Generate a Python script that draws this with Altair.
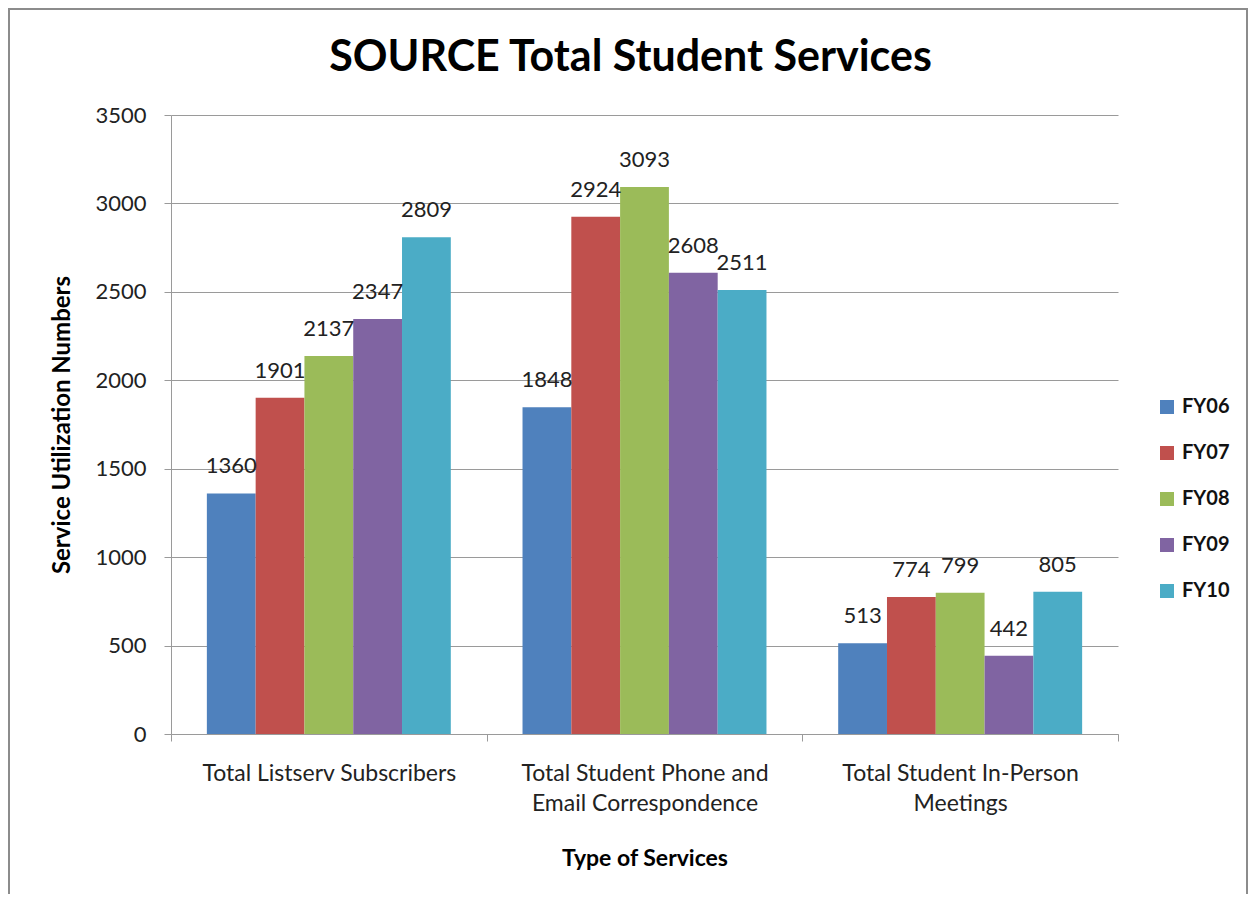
import altair as alt
import pandas as pd

categories = ["Total Listserv Subscribers",
              "Total Student Phone and|Email Correspondence",
              "Total Student In-Person|Meetings"]
series = ["FY06", "FY07", "FY08", "FY09", "FY10"]
colors = ["#4F81BD", "#C0504D", "#9BBB59", "#8064A2", "#4BACC6"]
values = {
    "FY06": [1360, 1848, 513],
    "FY07": [1901, 2924, 774],
    "FY08": [2137, 3093, 799],
    "FY09": [2347, 2608, 442],
    "FY10": [2809, 2511, 805],
}

rows = []
for s in series:
    for c, v in zip(categories, values[s]):
        rows.append({"cat": c, "fy": s, "val": v})
df = pd.DataFrame(rows)

FONT = "Lato"

x_enc = alt.X("cat:N", sort=categories,
              scale=alt.Scale(paddingInner=0, paddingOuter=0),
              axis=alt.Axis(title="Type of Services", labelAngle=0,
                            labelExpr="split(datum.label, '|')",
                            labelLimit=0, labelFontSize=23,
                            tickBand="extent", grid=False,
                            labelPadding=21, titlePadding=32))
xo_enc = alt.XOffset("fy:N", sort=series,
                     scale=alt.Scale(paddingInner=0, paddingOuter=0.735))
y_enc = alt.Y("val:Q", scale=alt.Scale(domain=[0, 3500]),
              axis=alt.Axis(title="Service Utilization Numbers", format="d",
                            values=[0, 500, 1000, 1500, 2000, 2500, 3000, 3500],
                            labelPadding=18, titlePadding=20, titleFontSize=24))

bars = alt.Chart(df).mark_bar().encode(
    x=x_enc, xOffset=xo_enc, y=y_enc,
    color=alt.Color("fy:N", sort=series,
                    scale=alt.Scale(domain=series, range=colors),
                    legend=alt.Legend(title=None, orient="none",
                                      legendX=986, legendY=282,
                                      symbolType="square", symbolSize=196,
                                      symbolStrokeWidth=0,
                                      labelFontSize=20, labelFontWeight="bold",
                                      labelFont=FONT, labelColor="#111",
                                      rowPadding=26, labelOffset=5)),
)

labels = alt.Chart(df).mark_text(baseline="alphabetic", dy=-20, fontSize=22,
                                 font=FONT, color="#222").encode(
    x=alt.X("cat:N", sort=categories), xOffset=alt.XOffset("fy:N", sort=series),
    y="val:Q", text="val:Q",
)

border = alt.Chart(pd.DataFrame({"a": [0]})).mark_rect(
    fill=None, stroke="#8c8c8c", strokeWidth=2).encode(
    x=alt.value(-162), x2=alt.value(1076), y=alt.value(-106), y2=alt.value(900))

chart = alt.layer(bars, labels, border).properties(
    width=947, height=619,
    autosize=alt.AutoSizeParams(type="none"),
    padding={"left": 163, "top": 107, "right": 131, "bottom": 160},
    title=alt.TitleParams("SOURCE Total Student Services", fontSize=43,
                          font=FONT, fontWeight="bold", color="#000",
                          anchor="middle", offset=-72, dx=-14),
).configure(background="white").configure_view(stroke=None).configure_axis(
    domainColor="#9a9a9a", tickColor="#9a9a9a", gridColor="#9a9a9a",
    tickSize=7, labelFontSize=21, labelFont=FONT, labelColor="#222",
    titleFont=FONT, titleFontSize=23, titleFontWeight="bold", titleColor="#000",
    labelLineHeight=30,
).configure_axisY(labelFontSize=22)

chart.save("out.html", embed_options={"renderer": "svg", "actions": False})
